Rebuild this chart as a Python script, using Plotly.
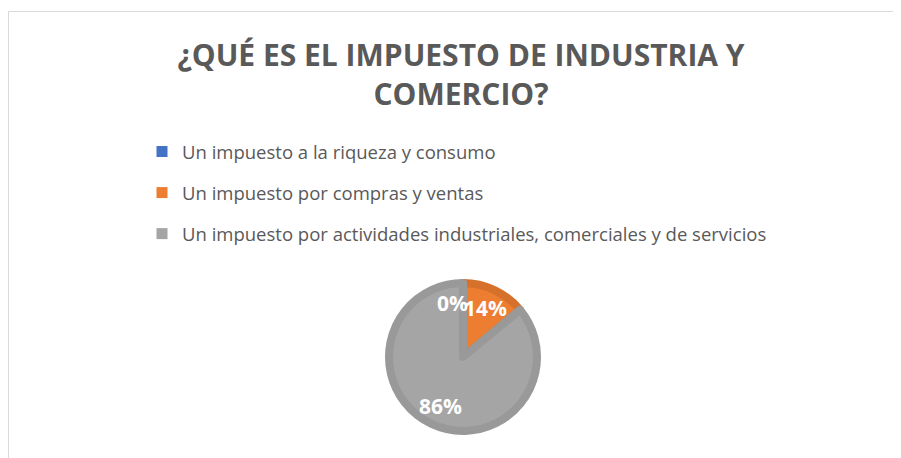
import numpy as np
import plotly.graph_objects as go

labels = ['Un impuesto a la riqueza y consumo',
          'Un impuesto por compras y ventas',
          'Un impuesto por actividades industriales, comerciales y de servicios']
values = [0, 14, 86]
colors = ['#4472c4', '#ed7d31', '#a5a5a5']
edge_colors = ['#3a62aa', '#d5712b', '#999999']

W, H = 901, 458
OFF = 8  # page body margin, positions below are page pixels


def px(x):
    return (x - OFF) / W


def py(y):
    return 1 - (y - OFF) / H


cx, cy, r = 463, 357, 78   # pie centre / radius in page px
ring = 8

fig = go.Figure()

# pie (line drawn half outside, so shrink domain by half the ring)
rr = r - ring / 2
fig.add_trace(go.Pie(
    labels=labels, values=values, sort=False, direction='clockwise', rotation=0,
    marker=dict(colors=colors, line=dict(color=edge_colors, width=ring)),
    textinfo='none', showlegend=False, hoverinfo='label+percent',
    domain=dict(x=[px(cx - rr), px(cx + rr)], y=[py(cy + rr), py(cy - rr)])))

# legend entries
for i, lab in enumerate(labels):
    fig.add_trace(go.Scatter(x=[None], y=[None], mode='markers', name=lab, legendgroup=str(i),
                             marker=dict(symbol='square', size=11, color=colors[i])))

# percentage labels at each slice's mid angle
total = sum(values)
start = 0
for i, v in enumerate(values):
    mid = (start + v / 2) / total * 2 * np.pi
    start += v
    lr = 0.69 * r
    x = cx + lr * np.sin(mid)
    y = cy - lr * np.cos(mid)
    fig.add_annotation(x=px(x), y=py(y), xref='paper', yref='paper', showarrow=False,
                       xanchor='center', yanchor='middle',
                       text='%d%%' % round(100 * v / total), xshift=-10 if v == 0 else 0,
                       font=dict(family='Open Sans', size=21, color='white', weight='bold'))

fig.update_layout(
    width=W, height=H, margin=dict(l=0, r=0, t=0, b=0),
    paper_bgcolor='white', plot_bgcolor='white',
    xaxis=dict(visible=False), yaxis=dict(visible=False),
    title=dict(text='¿QUÉ ES EL IMPUESTO DE INDUSTRIA Y<br>COMERCIO?', x=px(461), xanchor='center',
               y=1 - 58 / H, yanchor='top',
               font=dict(family='Open Sans', size=30, color='#595959', weight='bold')),
    legend=dict(x=px(142), y=py(133), xanchor='left', yanchor='top', tracegroupgap=14,
                font=dict(family='Open Sans', size=18.5, color='#595959'), bgcolor='rgba(0,0,0,0)'),
    shapes=[dict(type='rect', xref='paper', yref='paper', x0=px(8.5), x1=1.05, y0=-0.05, y1=py(11.5),
                 line=dict(color='#d9d9d9', width=1))],
)

fig.write_html('out.html')
